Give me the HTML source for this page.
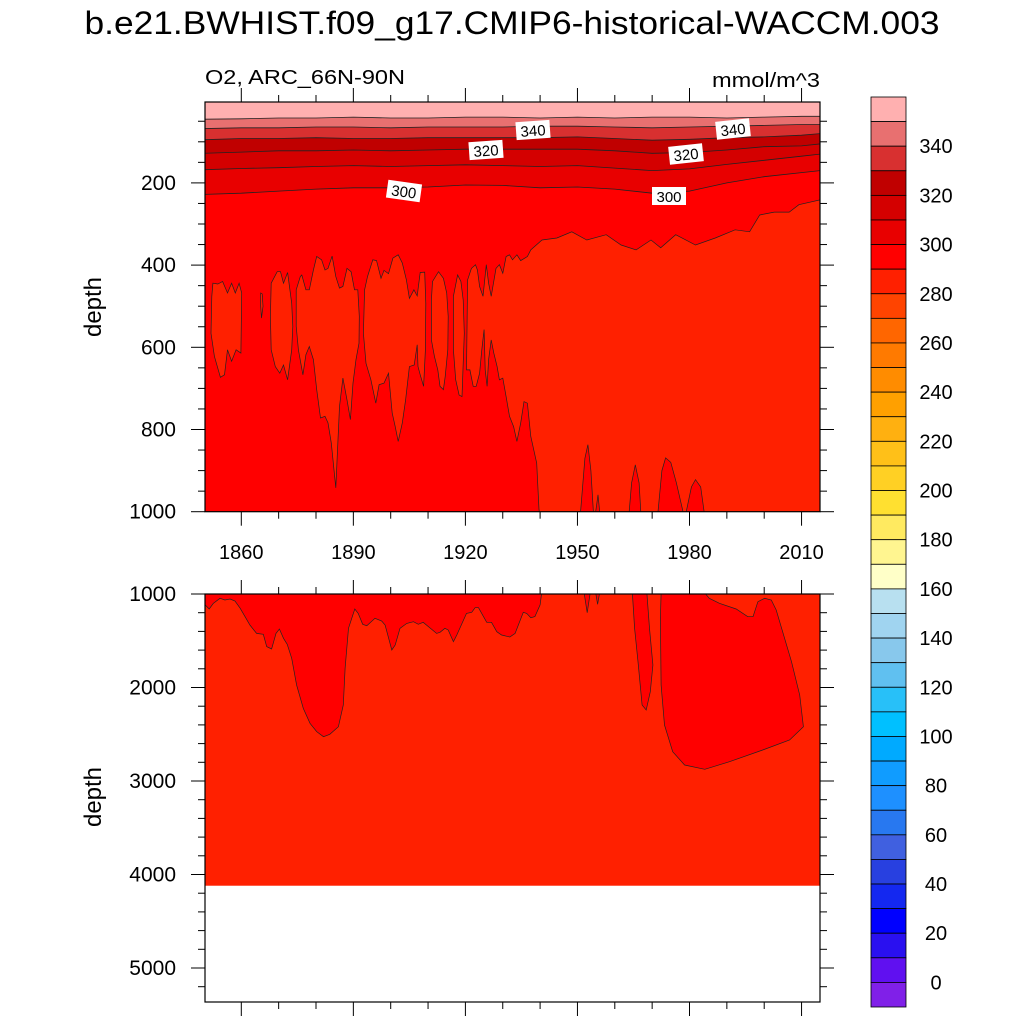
<!DOCTYPE html>
<html><head><meta charset="utf-8"><style>
html,body{margin:0;padding:0;background:#fff}
svg{display:block;font-family:"Liberation Sans",sans-serif}
</style></head><body>
<svg id="chart" width="1024" height="1024" viewBox="0 0 1024 1024" xmlns="http://www.w3.org/2000/svg">
<text x="512" y="34" font-size="32" text-anchor="middle" textLength="855" lengthAdjust="spacingAndGlyphs">b.e21.BWHIST.f09_g17.CMIP6-historical-WACCM.003</text>
<text x="205" y="84" font-size="20" textLength="200" lengthAdjust="spacingAndGlyphs">O2, ARC_66N-90N</text>
<text x="820" y="87" font-size="20" text-anchor="end" textLength="108" lengthAdjust="spacingAndGlyphs">mmol/m^3</text>
<text transform="translate(101,307) rotate(-90)" font-size="24" text-anchor="middle">depth</text>
<text transform="translate(101,797) rotate(-90)" font-size="24" text-anchor="middle">depth</text>
<defs>
<clipPath id="cu"><rect x="205" y="102" width="615" height="410"/></clipPath>
<clipPath id="cl"><rect x="205" y="594" width="615" height="408"/></clipPath>
</defs>
<g id="upper" clip-path="url(#cu)"></g>
<g id="lower" clip-path="url(#cl)"></g>
<g id="axes"></g>
<g id="labels"></g>
<g id="cbar"></g>
</svg>
<script>
// ---- data ----
const lineYears = [1850,1860,1870,1880,1890,1900,1910,1920,1930,1940,1950,1960,1970,1980,1990,2000,2010,2015];
const lvl350 = [45,44,42,42,40,42,42,40,40,42,40,42,40,40,42,40,38,38];
const lvl340 = [68,66,66,64,64,66,64,64,64,62,62,64,66,64,62,60,58,58];
const lvl330 = [95,92,92,90,92,92,90,90,90,90,88,92,96,94,90,88,84,80];
const lvl320 = [128,125,122,122,120,122,120,118,118,118,118,122,128,126,120,112,110,105];
const lvl310 = [168,165,163,160,158,160,158,156,158,160,158,164,170,166,155,145,135,130];
const lvl300 = [228,225,220,215,212,212,210,205,206,212,210,215,225,220,200,185,175,170];
const bandLevels = [300,310,320,330,340,350];
const bandColors = ['#E80000','#D40000','#C00000','#D83030','#E87070','#FFB0B0'];
const patch1 = [[1852.1,476],[1852.4,444],[1853.7,446],[1855,440],[1856.3,468],[1857.4,444],[1858.4,468],[1859.4,444],[1860.1,468],[1859.9,614],[1858.6,606],[1857.4,634],[1856.3,606],[1855.5,667],[1854.4,673],[1852.8,622],[1851.9,566]];
const patch2 = [[1865.2,468],[1865.6,470],[1865.8,500],[1865.4,529],[1865.2,500]];
const patch3 = [[1868,444],[1869.6,416],[1870.5,416],[1871.3,444],[1872.4,418],[1873.5,493],[1873.8,549],[1873.5,606],[1872.4,679],[1871.3,643],[1870.3,663],[1869.1,647],[1868,606],[1867.8,525]];
const patch4 = [[1874.7,460],[1875.8,428],[1876.2,424],[1877.3,460],[1878.2,460],[1879.3,412],[1880.2,379],[1881.5,387],[1882.4,412],[1883.2,408],[1884.3,378],[1885.3,428],[1886.3,456],[1887.2,452],[1888.3,408],[1889.4,416],[1890.3,460],[1891.2,460],[1891.6,525],[1891.5,590],[1890.7,630],[1889.9,687],[1889.2,776],[1888.3,728],[1887.2,675],[1886.3,744],[1885.3,942],[1884.1,833],[1883.2,784],[1882.4,768],[1881.2,772],[1880.2,703],[1879.3,630],[1878.2,598],[1877.3,618],[1876.5,667],[1875.3,606],[1874.7,549]];
const patch5 = [[1893,460],[1893.8,428],[1895.2,387],[1896.2,389],[1897.4,432],[1898.2,413],[1899.4,421],[1900.6,383],[1902,375],[1903.1,395],[1904.2,436],[1905,481],[1906.2,460],[1907.1,475],[1907.9,418],[1909.1,417],[1909.4,493],[1909.3,606],[1908.8,695],[1907.9,667],[1907.3,647],[1907.1,594],[1906.3,643],[1905,647],[1904,728],[1903.1,784],[1902,829],[1901.2,793],[1900.4,760],[1899.4,663],[1898.2,687],[1896.9,691],[1896,736],[1894.7,679],[1893.4,639],[1892.7,566]];
const patch6 = [[1911.2,440],[1912.8,416],[1914.1,432],[1915,468],[1915.4,525],[1915.3,606],[1914.6,671],[1914.1,703],[1913.2,695],[1912.6,655],[1911.7,622],[1910.9,582],[1910.9,485]];
const patch7 = [[1916.8,476],[1917.9,424],[1918.8,440],[1919.4,485],[1919.7,566],[1919.1,720],[1918.3,716],[1917.4,679],[1916.8,606]];
const deepRegion = [[1920.3,655],[1920.6,436],[1921.6,408],[1922.7,399],[1923.2,412],[1923.8,452],[1924.7,476],[1925.6,399],[1926.2,444],[1926.9,476],[1928.2,408],[1929.1,399],[1930,420],[1930.9,379],[1931.8,375],[1932.6,387],[1933.8,375],[1934.8,389],[1936.6,379],[1937.5,363],[1940.5,339],[1944.5,334],[1948.5,319],[1952.5,339],[1957.7,326],[1961.7,351],[1965.7,363],[1969.7,339],[1972.3,358],[1976.3,326],[1981.6,351],[1986.9,334],[1992.2,314],[1996.1,319],[1998.8,278],[2002.7,271],[2006.7,271],[2009.3,253],[2015,241],[2015,1005],[1939.9,1005],[1939.7,995],[1939.1,882],[1937.5,817],[1936.6,736],[1935.7,732],[1934.8,784],[1933.8,829],[1932.9,793],[1931.8,768],[1930.9,720],[1930,675],[1929.1,679],[1928.5,647],[1927.6,614],[1926.9,582],[1926.2,630],[1925.8,695],[1925.3,655],[1925,557],[1924.4,606],[1923.8,663],[1922.9,695],[1922.1,695],[1921.2,655]];
const spike1 = [[1950.8,1005],[1952,870],[1952.8,837],[1953.6,900],[1954.3,1005]];
const spike2 = [[1954.8,1005],[1955.5,959],[1956,1005]];
const spike3 = [[1963.8,1005],[1964.5,930],[1965.5,886],[1966.5,930],[1967,1005]];
const spike4 = [[1971.5,1005],[1972.6,900],[1973.6,869],[1975,880],[1976.5,930],[1978.4,1005]];
const spike5 = [[1979,1005],[1980.5,940],[1981.6,922],[1983,940],[1984,1005]];
const lowA = [[1849,995],[1849,1117],[1850.3,1117],[1851.4,1160],[1852.5,1100],[1854.3,1046],[1855.6,1064],[1857,1053],[1858.3,1075],[1859.7,1153],[1861,1242],[1862.3,1332],[1864.1,1421],[1865.9,1431],[1866.8,1563],[1868.1,1588],[1869.3,1421],[1870.2,1374],[1871.3,1474],[1872.3,1538],[1873.5,1688],[1874.8,1973],[1876.6,2223],[1878.4,2383],[1880.2,2472],[1882,2526],[1883.7,2501],[1886,2419],[1887.3,2187],[1887.8,1795],[1888.7,1367],[1890.4,1160],[1891.3,1207],[1892.5,1324],[1893.6,1339],[1895.8,1260],[1897.6,1289],[1898.5,1332],[1900.3,1599],[1901.2,1545],[1902.5,1367],[1904.3,1314],[1906.1,1296],[1907.4,1324],[1908.7,1303],[1910.1,1349],[1912.3,1421],[1913.2,1410],[1914.5,1367],[1915.4,1385],[1916.8,1510],[1917.7,1438],[1920.3,1207],[1921.7,1196],[1922.6,1146],[1923.5,1146],[1925.7,1303],[1927,1303],[1928.4,1403],[1929.7,1438],[1931.9,1460],[1933.3,1421],[1935.5,1196],[1936.4,1207],[1937.5,1253],[1938.6,1242],[1940,1117],[1940.4,995]];
const lowB = [[1951.8,995],[1952.6,1200],[1953.4,995]];
const lowB2 = [[1954.9,995],[1955.4,1110],[1955.9,995]];
const lowC = [[1964.7,995],[1965.3,1367],[1966.2,1724],[1967.3,2187],[1968.4,2241],[1969.5,2045],[1970.2,1759],[1969.3,1367],[1968.6,995]];
const lowD = [[1972.4,995],[1972.2,1260],[1972.4,1973],[1973.3,2401],[1975.5,2687],[1978.7,2829],[1984.1,2875],[1990.7,2794],[1999.6,2668],[2006.8,2561],[2010.5,2419],[2009.5,2080],[2007.3,1724],[2003.2,1171],[2001.9,1064],[2000.1,1046],[1998.3,1082],[1997,1243],[1995.6,1243],[1992.5,1160],[1988,1099],[1985.3,1046],[1984.2,995]];
const oceanBottom = 4120;
const xTicks = [1860,1890,1920,1950,1980,2010];
const upperTicks = [200,400,600,800,1000];
const lowerTicks = [1000,2000,3000,4000,5000];
const cbColors = ['#FFB0B0','#E87070','#D83030','#C00000','#D40000','#E80000','#FF0000','#FF2000','#FF4400','#FF6600','#FF7A00','#FF8C00','#FFA000','#FFB010','#FFC018','#FFD024','#FFE030','#FFEA60','#FFF590','#FFFFC8','#B8E0F0','#A0D4F0','#88C8EC','#60C0F0','#28C0F8','#00C0FF','#00AAFF','#109CFF','#1E90FF','#2878F0','#4060E0','#2840E0','#1428F0','#0000FF','#2A10F0','#6010F0','#8020E8'];
const cbLabels = [340,320,300,280,260,240,220,200,180,160,140,120,100,80,60,40,20,0];

// ---- scales ----
const X = yr => 241.3 + (yr - 1860) * 3.735;
const YU = d => 511.7 - (1000 - d) * 0.411;
const YL = d => 594 + (d - 1000) * 0.0935;
const NS = 'http://www.w3.org/2000/svg';
function mk(parent, tag, attrs){ const e=document.createElementNS(NS,tag); for(const k in attrs) e.setAttribute(k,attrs[k]); parent.appendChild(e); return e; }
function polyPts(arr, ys){ return arr.map(p=>X(p[0]).toFixed(1)+','+ys(p[1]).toFixed(1)).join(' '); }
const up = document.getElementById('upper'), lo = document.getElementById('lower');

let r = mk(up,'rect',{x:200,y:95,width:630,height:420,fill:'#FF0000'});


const lvlArrays = [lvl300,lvl310,lvl320,lvl330,lvl340,lvl350];
lvlArrays.forEach((arr,i)=>{
  const pts = lineYears.map((yr,j)=>[yr,arr[j]]);
  const poly = [[lineYears[0],-20]].concat(pts).concat([[lineYears[lineYears.length-1],-20]]);
  const p = mk(up,'polygon',{points:polyPts(poly,YU),fill:bandColors[i]});
  
  
  const l = mk(up,'polyline',{points:polyPts(pts,YU),fill:'none',stroke:'#222','stroke-width':0.8});
  
  
});
[patch1,patch2,patch3,patch4,patch5,patch6,patch7,deepRegion].forEach((pp,i)=>{
  const p = mk(up,'polygon',{points:polyPts(pp,YU),fill:'#FF2000',stroke:'#222','stroke-width':0.7});
  
  
});
[spike1,spike2,spike3,spike4,spike5].forEach((pp,i)=>{
  const p = mk(up,'polygon',{points:polyPts(pp,YU),fill:'#FF0000',stroke:'#222','stroke-width':0.7});
  
  
});

r = mk(lo,'rect',{x:200,y:590,width:630,height:YL(oceanBottom)-590,fill:'#FF2000'});


[lowA,lowB,lowB2,lowC,lowD].forEach((pp,i)=>{
  const p = mk(lo,'polygon',{points:polyPts(pp,YL),fill:'#FF0000',stroke:'#222','stroke-width':0.7});
  
  
});

const ax = document.getElementById('axes');
function line(x1,y1,x2,y2,name,w){ const e=mk(ax,'line',{x1,y1,x2,y2,stroke:'#000','stroke-width':w||1});   return e; }
function txt(x,y,s,anchor,name,size){ const e=mk(ax,'text',{x,y,'font-size':size||20,'text-anchor':anchor}); e.textContent=s;   return e; }
const panels = [{top:102,bot:511.7,ys:YU,ticks:upperTicks,minStep:50,dmin:0,dmax:1000,nm:'upper'},{top:594,bot:1002,ys:YL,ticks:lowerTicks,minStep:200,dmin:1000,dmax:5360,nm:'lower'}];
const L=205, R=820;
panels.forEach(P=>{
  const fr = mk(ax,'rect',{x:L,y:P.top,width:R-L,height:P.bot-P.top,fill:'none',stroke:'#000','stroke-width':1.2});
  
  
  for(let d=Math.ceil(P.dmin/P.minStep)*P.minStep; d<=P.dmax; d+=P.minStep){
    const y=P.ys(d); if(y<P.top-0.5||y>P.bot+0.5) continue;
    const major = P.ticks.indexOf(d)>=0;
    line(L-(major?14:7),y,L,y,P.nm+'-y-tick',1);
    line(R,y,R+(major?14:7),y,P.nm+'-y-tick-right',1);
    if(major) txt(176,y+7,String(d),'end',P.nm+'-y-label',21);
  }
  for(let yr=1860; yr<=2010; yr+=10){
    const x=X(yr), major = xTicks.indexOf(yr)>=0, len=major?14:7;
    line(x,P.top-len,x,P.top,P.nm+'-x-tick-top',1);
    line(x,P.bot,x,P.bot+len,P.nm+'-x-tick-bottom',1);
  }
});
xTicks.forEach(yr=>txt(X(yr),559,String(yr),'middle','x-tick-label',20));

const lb = document.getElementById('labels');
const labs = [[533,130,'340',-4],[733,129,'340',-6],[486,150,'320',-4],[686,154,'320',-6],[404,191,'300',8],[669,196,'300',0]];
labs.forEach(a=>{
  const g = mk(lb,'g',{transform:`translate(${a[0]},${a[1]}) rotate(${a[3]})`});
  
  
  mk(g,'rect',{x:-17,y:-9,width:34,height:18,fill:'#fff'});
  const t = mk(g,'text',{x:0,y:6,'font-size':15,'text-anchor':'middle'}); t.textContent=a[2];
});

const cb = document.getElementById('cbar');
const cbTop=97, cbH=910/cbColors.length;
cbColors.forEach((c,i)=>{
  const e = mk(cb,'rect',{x:871,y:cbTop+i*cbH,width:35,height:cbH,fill:c,stroke:'#000','stroke-width':0.8});
  
  
});
cbLabels.forEach((v,k)=>{
  const y = cbTop + (2+2*k)*cbH;
  const e = mk(cb,'text',{x:936,y:y+7,'font-size':20,'text-anchor':'middle'}); e.textContent=String(v);
  
  
});
</script>
</body></html>
